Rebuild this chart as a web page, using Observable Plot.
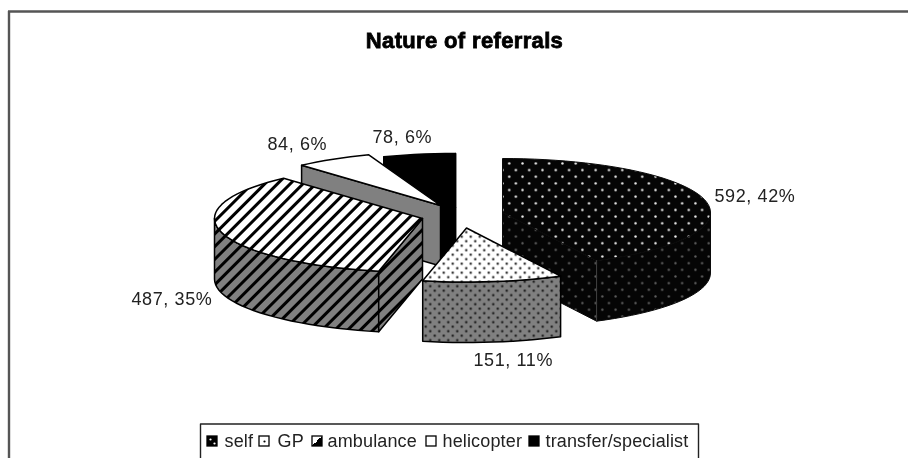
<!DOCTYPE html>
<html>
<head>
<meta charset="utf-8">
<script src="https://cdn.jsdelivr.net/npm/d3@7"></script>
<script src="https://cdn.jsdelivr.net/npm/@observablehq/plot@0.6"></script>
<style>
  html, body { margin: 0; padding: 0; background: #fff; overflow: hidden; }
  #chart svg { display: block; filter: blur(0.5px); }
  #chart svg .labels text { letter-spacing: 0.6px; }
  #chart svg .legendText text { letter-spacing: 0.15px; }
  #chart svg .title text { letter-spacing: 0.35px; stroke: #000; stroke-width: 0.8px; }
</style>
</head>
<body>
<div id="chart"></div>
<script>
// Data
const categories = ["self", "GP", "ambulance", "helicopter", "transfer/specialist"];
const counts = [592, 151, 487, 84, 78];
const percents = [42, 11, 35, 6, 6];
const titleText = "Nature of referrals";

// Layout of the exploded 3-D pie (apex of each slice, ellipse radii, extrusion)
const centers = [[502, 212], [466, 227.5], [422, 218], [440, 205], [455, 207]];
const labelPos = [[714, 196], [473, 360], [131, 299], [267, 144], [372, 137]];
const legendPos = [[207, 224], [259, 277], [312, 327], [426, 442], [529, 545]];
const rx = 208, ry = 54, depth = 60.5;

const total = d3.sum(counts);
const ends = d3.cumsum(counts).map((c) => (c / total) * 360);
const starts = [0, ...ends.slice(0, -1)];
const rim = (cx, cy, deg, dz = 0) => {
  const a = (deg * Math.PI) / 180;
  return {x: cx + rx * Math.sin(a), y: cy - ry * Math.cos(a) + dz};
};
const arc = (cx, cy, a0, a1, dz = 0) => {
  const n = Math.max(1, Math.ceil(Math.abs(a1 - a0) / 3));
  return d3.range(n + 1).map((k) => rim(cx, cy, a0 + ((a1 - a0) * k) / n, dz));
};
const topFace = (i) => {
  const [cx, cy] = centers[i];
  const apex = {x: cx, y: cy};
  return [apex, ...arc(cx, cy, starts[i], ends[i]), apex];
};
const radialFace = (i, deg) => {
  const [cx, cy] = centers[i];
  const p = rim(cx, cy, deg);
  const q = rim(cx, cy, deg, depth);
  return [{x: cx, y: cy}, p, q, {x: cx, y: cy + depth}, {x: cx, y: cy}];
};
const rimFace = (i, a0, a1) => {
  const [cx, cy] = centers[i];
  const up = arc(cx, cy, a0, a1);
  const down = arc(cx, cy, a1, a0, depth);
  return [...up, ...down, up[0]];
};

// Painter's order: back slices first
const panel = (points, fill, stroke = "#000", sw = 1.5) =>
  Plot.line(points, {x: "x", y: "y", fill, stroke, strokeWidth: sw, strokeLinejoin: "round"});

const marks = [
  // chart area frame (top + left only, the rest falls outside the image)
  Plot.ruleY([11], {x1: () => 8, x2: () => 908, stroke: "#555", strokeWidth: 2.4}),
  Plot.ruleX([8.5], {y1: () => 11, y2: () => 458, stroke: "#555", strokeWidth: 2.4}),

  // transfer/specialist
  panel(radialFace(4, starts[4]), "#000"),
  panel(radialFace(4, ends[4]), "#000"),
  panel(topFace(4), "#000"),
  // helicopter
  panel(radialFace(3, starts[3]), "#808080"),
  panel(topFace(3), "#fff"),
  // ambulance
  panel(rimFace(2, starts[2], 270), "url(#hatchSide)"),
  panel(radialFace(2, starts[2]), "url(#hatchSide)"),
  panel(topFace(2), "url(#hatchTop)"),
  // self
  panel(radialFace(0, ends[0]), "url(#dotSide)", "#0a0a0a", 1),
  panel(rimFace(0, 90, ends[0]), "url(#dotSide)", "#0a0a0a", 1),
  panel(topFace(0), "url(#dotTop)", "#0a0a0a", 1),
  Plot.ruleX([rim(...centers[0], ends[0]).x], {
    y1: () => rim(...centers[0], ends[0]).y,
    y2: () => rim(...centers[0], ends[0], depth).y,
    stroke: "#444", strokeWidth: 1
  }),
  // GP
  panel(rimFace(1, starts[1], ends[1]), "url(#gpSide)"),
  panel(topFace(1), "url(#gpTop)"),

  // data labels
  Plot.text(categories, {
    x: (d, i) => labelPos[i][0],
    y: (d, i) => labelPos[i][1],
    text: (d, i) => `${counts[i]}, ${percents[i]}%`,
    textAnchor: "start", fontSize: 18, fill: "#222", fontFamily: "Liberation Sans",
    className: "labels"
  }),

  // title
  Plot.text([titleText], {
    x: () => 464, y: () => 40, text: (d) => d,
    fontSize: 22, fontWeight: "bold", fontFamily: "Liberation Sans", fill: "#000",
    className: "title"
  }),

  // legend box (open at the bottom where the image ends)
  Plot.line([{x: 200, y: 458}, {x: 200, y: 423.5}, {x: 698, y: 423.5}, {x: 698, y: 458}],
    {x: "x", y: "y", stroke: "#222", strokeWidth: 1.4}),
  Plot.rect(categories, {
    x1: (d, i) => legendPos[i][0],
    x2: (d, i) => legendPos[i][0] + 10,
    y1: () => 436,
    y2: () => 446,
    fill: (d, i) => ["#000", "#fff", "url(#legendAmb)", "#fff", "#000"][i],
    stroke: "#000", strokeWidth: 1.3
  }),
  Plot.dot(["a", "b", "c"], {
    x: (d, i) => [210, 214, 264][i], y: (d, i) => [439, 443, 441][i],
    r: 1.1, fill: (d, i) => (i < 2 ? "#fff" : "#000"), stroke: "none"
  }),
  Plot.text(categories, {
    x: (d, i) => legendPos[i][1],
    y: () => 441,
    text: (d) => d,
    textAnchor: "start", fontSize: 18, fill: "#222", fontFamily: "Liberation Sans",
    className: "legendText"
  })
];

const chart = Plot.plot({
  width: 908, height: 458,
  margin: 0,
  x: {domain: [0, 908], range: [0, 908], axis: null},
  y: {domain: [0, 458], range: [0, 458], axis: null},
  style: {background: "#fff", overflow: "hidden"},
  marks
});

const defs = d3.select(chart).insert("defs", ":first-child");
const dotPattern = (id, size, bg, dot, r) => {
  const p = defs.append("pattern").attr("id", id).attr("patternUnits", "userSpaceOnUse")
    .attr("width", size).attr("height", size);
  p.append("rect").attr("width", size).attr("height", size).attr("fill", bg);
  [[size / 4, size / 4], [(3 * size) / 4, (3 * size) / 4]].forEach(([x, y]) =>
    p.append("circle").attr("cx", x).attr("cy", y).attr("r", r).attr("fill", dot));
};
dotPattern("dotTop", 13.3, "#050505", "#f0f0f0", 1.2);
dotPattern("dotSide", 13.3, "#050505", "#606060", 1.15);
dotPattern("gpTop", 9, "#fff", "#111", 1.15);
dotPattern("gpSide", 9, "#808080", "#111", 1.15);
const hatch = (id, bg) => {
  const p = defs.append("pattern").attr("id", id).attr("patternUnits", "userSpaceOnUse")
    .attr("width", 9).attr("height", 9).attr("patternTransform", "rotate(45)");
  p.append("rect").attr("width", 9).attr("height", 9).attr("fill", bg);
  p.append("rect").attr("width", 3).attr("height", 9).attr("fill", "#000");
};
hatch("hatchTop", "#fff");
hatch("hatchSide", "#808080");
const amb = defs.append("linearGradient").attr("id", "legendAmb")
  .attr("x1", 0).attr("y1", 0).attr("x2", 1).attr("y2", 1);
amb.append("stop").attr("offset", "50%").attr("stop-color", "#fff");
amb.append("stop").attr("offset", "50%").attr("stop-color", "#000");

document.getElementById("chart").append(chart);
</script>
</body>
</html>
